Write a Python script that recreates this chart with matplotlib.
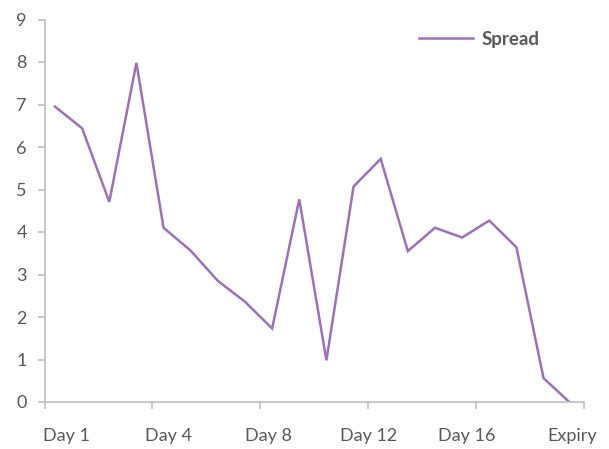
import matplotlib.pyplot as plt
import numpy as np

# data
spread = [6.95, 6.44, 4.71, 7.98, 4.10, 3.56, 2.85, 2.36, 1.73, 4.77,
          0.98, 5.07, 5.72, 3.55, 4.10, 3.87, 4.27, 3.64, 0.56, -0.03]
tick_labels = ['Day 1', 'Day 4', 'Day 8', 'Day 12', 'Day 16', 'Expiry']
label_pos = [0.44, 4.2, 7.85, 11.57, 15.15, 19.05]
tick_pos = [-0.368, 3.56, 7.54, 11.52, 15.5, 19.49]

plt.rcParams['font.family'] = ['Lato', 'DejaVu Sans']

fig = plt.figure(figsize=(6.09, 4.49), dpi=100)
ax = fig.add_axes([45 / 609, 47 / 449, 539 / 609, 382.5 / 449])

x = np.arange(len(spread))
ax.plot(x, spread, color='#9b72b8', lw=1.8, label='Spread', solid_joinstyle='miter')

ax.set_xlim(tick_pos[0], tick_pos[-1])
ax.set_ylim(0, 9)
ax.set_yticks(range(10))

# tick marks on the boundaries, labels placed separately
ax.set_xticks(tick_pos)
ax.set_xticklabels([])
ax.set_xticks(label_pos, minor=True)
ax.set_xticklabels(tick_labels, minor=True)

grey = '#bfbfbf'
for s in ['top', 'right']:
    ax.spines[s].set_visible(False)
for s in ['left', 'bottom']:
    ax.spines[s].set_color(grey)
    ax.spines[s].set_linewidth(1.2)

ax.tick_params(axis='both', which='major', color=grey, width=1.2, length=5,
               labelsize=13, labelcolor='#595959')
ax.tick_params(axis='y', pad=8)
ax.tick_params(axis='x', which='minor', length=0, pad=19, labelsize=13,
               labelcolor='#595959')

leg = ax.legend(loc='center right', bbox_to_anchor=(0.918, 0.949), frameon=False,
                borderpad=0, borderaxespad=0, handlelength=2.9, handletextpad=0.45,
                prop={'size': 13.5, 'weight': 'bold'})
for t in leg.get_texts():
    t.set_color('#595959')

fig.savefig('out.png', dpi=100)
